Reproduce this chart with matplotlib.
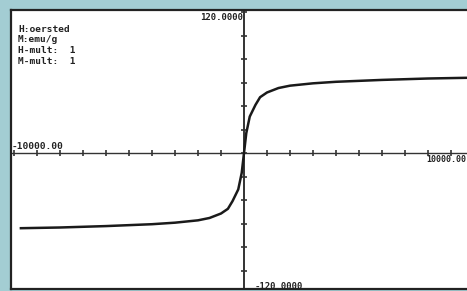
import numpy as np
import matplotlib.pyplot as plt

# magnetisation curve (H in oersted, M in emu/g)
H = [-9700, -8000, -6000, -4000, -3000, -2000, -1500, -1000, -700, -500, -250, -100, 0,
     100, 250, 500, 700, 1000, 1500, 2000, 3000, 4000, 6000, 8000, 9700]
M = [-64.0, -63.4, -62.2, -60.6, -59.3, -57.3, -55.3, -51.5, -47.5, -41.0, -31.0, -17.0, 0.0,
     17.0, 31.0, 41.0, 47.5, 51.5, 55.3, 57.3, 59.3, 60.6, 62.2, 63.4, 64.0]

x_ticks = np.arange(-10000, 10001, 1000)
y_ticks = np.arange(-120, 121, 20)
info = ['H:oersted', 'M:emu/g', 'H-mult:  1', 'M-mult:  1']

W, Hh = 467, 291
fig = plt.figure(figsize=(W / 100, Hh / 100), dpi=100)
fig.patch.set_facecolor('#a3cdd3')

# axes box: left edge at px 11, top at px 10, bottom at px 289, right off the picture
left, top, bottom, right = 11, 10, 289, 474
ax = fig.add_axes([left / W, (Hh - bottom) / Hh, (right - left) / W, (bottom - top) / Hh])
ax.set_facecolor('white')
px_x = 20000 / 460.0
ax.set_xlim(-10000 - 3 * px_x, 10000)
px_y = 120 / 141.0
ax.set_ylim(-(bottom - 153) * px_y, (153 - top) * px_y)

for s in ['left', 'top', 'bottom']:
    ax.spines[s].set_color('#222222')
    ax.spines[s].set_linewidth(1.6)
ax.spines['right'].set_visible(False)
ax.set_xticks([])
ax.set_yticks([])

# axes through the origin with small cross ticks
ax.axhline(0, color='#333333', lw=1.0)
ax.axvline(0, color='#333333', lw=1.4)
ax.plot(x_ticks, np.zeros(len(x_ticks)), ls='none', marker='|', ms=4, mew=1.2, color='#333333')
ax.plot(np.zeros(len(y_ticks)), y_ticks, ls='none', marker='_', ms=4, mew=1.2, color='#333333')

ax.plot(H, M, color='#1a1a1a', lw=1.8)

mono = dict(family='DejaVu Sans Mono', fontweight='bold', color='#222222')
for i, t in enumerate(info):
    fig.text(18 / W, 1 - (25 + 10.5 * i) / Hh, t, fontsize=6.8, va='top', **mono)

fig.text(243 / W, 1 - 13 / Hh, '120.0000', fontsize=6.5, ha='right', va='top', **mono)
fig.text(255 / W, 1 - 291 / Hh, '-120.0000', fontsize=6.5, ha='left', va='bottom', **mono)
fig.text(12 / W, 1 - 151 / Hh, '-10000.00', fontsize=6.8, ha='left', va='bottom', **mono)
fig.text(466 / W, 1 - 155 / Hh, '10000.00', fontsize=6.0, ha='right', va='top', **mono)

fig.savefig('out.png', dpi=100, facecolor=fig.get_facecolor())
